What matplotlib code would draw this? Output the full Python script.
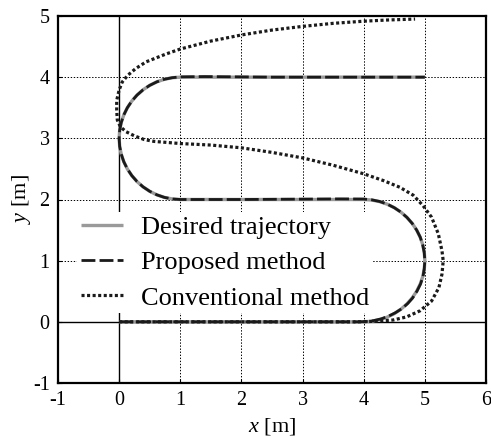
import matplotlib
matplotlib.use("Agg")
import matplotlib.pyplot as plt

plt.rcParams['font.family'] = ['Liberation Serif', 'DejaVu Serif']
plt.rcParams['mathtext.fontset'] = 'custom'
plt.rcParams['mathtext.rm'] = 'Liberation Serif'
plt.rcParams['mathtext.it'] = 'Liberation Serif:italic'
plt.rcParams['axes.unicode_minus'] = False
plt.rcParams['lines.scale_dashes'] = False

# Desired trajectory (straight segments joined by semicircles)
desired_x = [0.0, 4.0, 4.1305, 4.2588, 4.3827, 4.5, 4.6088, 4.7071, 4.7934, 4.866, 4.9239, 4.9659, 4.9914,
             5.0, 4.9914, 4.9659, 4.9239, 4.866, 4.7934, 4.7071, 4.6088, 4.5, 4.3827, 4.2588, 4.1305, 4.0,
             1.0, 0.8695, 0.7412, 0.6173, 0.5, 0.3912, 0.2929, 0.2066, 0.134, 0.0761, 0.0341, 0.0086,
             0.0, 0.0086, 0.0341, 0.0761, 0.134, 0.2066, 0.2929, 0.3912, 0.5, 0.6173, 0.7412, 0.8695, 1.0, 5.0]
desired_y = [0.0, 0.0, 0.0086, 0.0341, 0.0761, 0.134, 0.2066, 0.2929, 0.3912, 0.5, 0.6173, 0.7412, 0.8695,
             1.0, 1.1305, 1.2588, 1.3827, 1.5, 1.6088, 1.7071, 1.7934, 1.866, 1.9239, 1.9659, 1.9914, 2.0,
             2.0, 2.0086, 2.0341, 2.0761, 2.134, 2.2066, 2.2929, 2.3912, 2.5, 2.6173, 2.7412, 2.8695,
             3.0, 3.1305, 3.2588, 3.3827, 3.5, 3.6088, 3.7071, 3.7934, 3.866, 3.9239, 3.9659, 3.9914, 4.0, 4.0]

# Proposed method
proposed_x = [0.0, 2.0, 3.9, 4.03, 4.16, 4.29, 4.41, 4.52, 4.63, 4.72, 4.80, 4.87, 4.93, 4.97, 4.99,
              5.0, 4.99, 4.965, 4.925, 4.866, 4.793, 4.707, 4.609, 4.5, 4.383, 4.259, 4.13, 4.0, 3.6,
              2.0, 1.0, 0.8695, 0.7412, 0.6173, 0.5, 0.3912, 0.2929, 0.2066, 0.134, 0.0761, 0.0341, 0.0086,
              0.0, 0.0086, 0.0341, 0.0761, 0.134, 0.2066, 0.2929, 0.3912, 0.5, 0.6173, 0.7412, 0.8695,
              1.0, 1.4, 2.5, 5.0]
proposed_y = [0.0, 0.0, 0.0, 0.004, 0.02, 0.05, 0.095, 0.15, 0.22, 0.30, 0.39, 0.50, 0.62, 0.74, 0.87,
              1.0, 1.13, 1.259, 1.383, 1.5, 1.609, 1.707, 1.793, 1.866, 1.925, 1.968, 1.995, 2.008, 2.01,
              2.0, 2.0, 2.0086, 2.0341, 2.0761, 2.134, 2.2066, 2.2929, 2.3912, 2.5, 2.6173, 2.7412, 2.8695,
              3.0, 3.1305, 3.2588, 3.3827, 3.5, 3.6088, 3.7071, 3.7934, 3.866, 3.9239, 3.9659, 3.9914,
              4.005, 4.01, 4.0, 4.0]

# Conventional method
conv_x = [0.0, 2.0, 3.9, 4.21, 4.48, 4.70, 4.92, 5.11, 5.23, 5.28, 5.30, 5.28, 5.22, 5.11, 4.97, 4.81,
          4.59, 4.32, 4.0, 3.5, 3.0, 2.5, 2.0, 1.5, 1.0, 0.57, 0.41, 0.25, 0.11, 0.02, -0.03, -0.04,
          -0.04, 0.0, 0.05, 0.14, 0.27, 0.44, 0.77, 1.0, 1.5, 2.0, 2.5, 3.0, 3.5, 4.0, 4.4, 4.84]
conv_y = [0.0, 0.0, 0.0, 0.01, 0.03, 0.08, 0.18, 0.34, 0.56, 0.78, 1.0, 1.16, 1.44, 1.71, 1.90, 2.07,
          2.20, 2.31, 2.42, 2.56, 2.68, 2.77, 2.845, 2.89, 2.915, 2.95, 2.98, 3.04, 3.11, 3.19, 3.30, 3.46,
          3.62, 3.79, 3.92, 4.03, 4.14, 4.25, 4.38, 4.46, 4.59, 4.69, 4.77, 4.83, 4.88, 4.915, 4.935, 4.95]

x_ticks = [-1, 0, 1, 2, 3, 4, 5, 6]
y_ticks = [-1, 0, 1, 2, 3, 4, 5]

fig = plt.figure(figsize=(4.91, 4.37), dpi=100)
ax = fig.add_axes([58/491, 1-383/437, (486-58)/491, (383-16)/437])

ax.set_xlim(-1, 6)
ax.set_ylim(-1, 5)
ax.set_xticks(x_ticks)
ax.set_yticks(y_ticks)
ax.grid(True, color='black', linestyle=(0, (1, 1.2)), linewidth=0.7, zorder=0)
ax.axhline(0, color='black', linewidth=1.0, zorder=1)
ax.axvline(0, color='black', linewidth=1.0, zorder=1)

ax.plot(desired_x, desired_y, color='#9a9a9a', linewidth=2.4, solid_capstyle='butt',
        label='Desired trajectory', zorder=3)
ax.plot(proposed_x, proposed_y, color='#1a1a1a', linewidth=2.0, dashes=(10, 3),
        label='Proposed method', zorder=4)
ax.plot(conv_x, conv_y, color='#1a1a1a', linewidth=2.3, dashes=(2.2, 1.8),
        label='Conventional method', zorder=5)

for s in ax.spines.values():
    s.set_linewidth(1.6)
ax.tick_params(direction='in', length=3, width=0.8, labelsize=14.5, pad=6)

ax.set_xlabel(r'$x$ [m]', fontsize=16, labelpad=4)
ax.set_ylabel(r'$y$ [m]', fontsize=16, labelpad=0)

leg = ax.legend(loc='upper left', bbox_to_anchor=(0.045, (383-212)/367),
                fontsize=19, frameon=True, fancybox=False, framealpha=1,
                facecolor='white', edgecolor='none', borderpad=0.13, borderaxespad=0,
                handlelength=1.6, handletextpad=0.68, labelspacing=0.45)
leg.set_zorder(6)

fig.savefig('out.png', dpi=100)
